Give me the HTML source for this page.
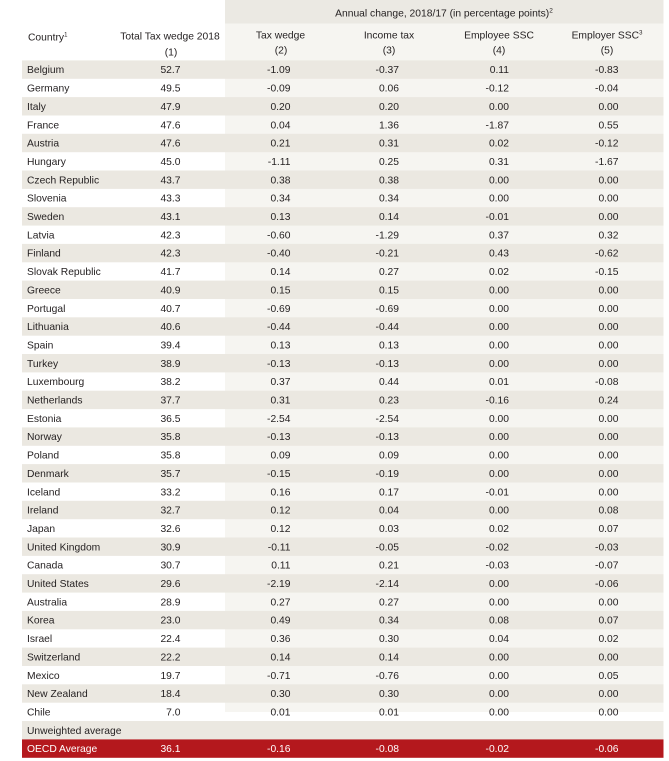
<!DOCTYPE html>
<html><head><meta charset="utf-8"><style>
html,body{margin:0;padding:0;background:#fff;}
svg{display:block;}
text{font-family:"Liberation Sans",sans-serif;font-size:10.3px;fill:#231f20;}
.r text.v{text-anchor:end;}
</style></head><body>
<svg width="669" height="761" viewBox="0 0 669 761" xmlns="http://www.w3.org/2000/svg">
<rect x="0" y="0" width="669" height="761" fill="#fff"/>
<rect x="225" y="0" width="438.5" height="712" fill="#f6f5f1"/>
<rect x="225" y="0" width="438.5" height="23.5" fill="#ebe9e3"/>
<text x="444" y="16.5" text-anchor="middle">Annual change, 2018/17 (in percentage points)<tspan font-size="6.5" dy="-4">2</tspan></text>
<text x="28" y="40.6">Country<tspan font-size="6" dy="-4">1</tspan></text>
<text x="170" y="39.3" text-anchor="middle">Total Tax wedge 2018</text>
<text x="171" y="55.3" text-anchor="middle">(1)</text>
<text x="280.5" y="38.6" text-anchor="middle">Tax wedge</text>
<text x="281" y="53.6" text-anchor="middle">(2)</text>
<text x="389" y="38.6" text-anchor="middle">Income tax</text>
<text x="389" y="53.6" text-anchor="middle">(3)</text>
<text x="499" y="38.6" text-anchor="middle">Employee SSC</text>
<text x="499" y="53.6" text-anchor="middle">(4)</text>
<text x="607" y="38.6" text-anchor="middle">Employer SSC<tspan font-size="6" dy="-4">3</tspan></text>
<text x="607" y="53.6" text-anchor="middle">(5)</text>

<g fill="#ebe8e1">
<rect x="22" y="60.4" width="641.5" height="18.4"/>
<rect x="22" y="97.1" width="641.5" height="18.4"/>
<rect x="22" y="133.8" width="641.5" height="18.4"/>
<rect x="22" y="170.5" width="641.5" height="18.4"/>
<rect x="22" y="207.2" width="641.5" height="18.4"/>
<rect x="22" y="243.9" width="641.5" height="18.4"/>
<rect x="22" y="280.6" width="641.5" height="18.4"/>
<rect x="22" y="317.3" width="641.5" height="18.4"/>
<rect x="22" y="354.0" width="641.5" height="18.4"/>
<rect x="22" y="390.7" width="641.5" height="18.4"/>
<rect x="22" y="427.4" width="641.5" height="18.4"/>
<rect x="22" y="464.1" width="641.5" height="18.4"/>
<rect x="22" y="500.8" width="641.5" height="18.4"/>
<rect x="22" y="537.5" width="641.5" height="18.4"/>
<rect x="22" y="574.2" width="641.5" height="18.4"/>
<rect x="22" y="610.9" width="641.5" height="18.4"/>
<rect x="22" y="647.6" width="641.5" height="18.4"/>
<rect x="22" y="684.3" width="641.5" height="18.4"/>
<rect x="22" y="721.0" width="641.5" height="18.4"/>
</g>
<rect x="22" y="739.4" width="641.5" height="18.4" fill="#b4181d"/>

<g class="r" transform="translate(0,73.2)"><text x="27">Belgium</text><text class="v" x="180.5">52.7</text><text class="v" x="290.5">-1.09</text><text class="v" x="399">-0.37</text><text class="v" x="509">0.11</text><text class="v" x="618.5">-0.83</text></g>
<g class="r" transform="translate(0,91.55)"><text x="27">Germany</text><text class="v" x="180.5">49.5</text><text class="v" x="290.5">-0.09</text><text class="v" x="399">0.06</text><text class="v" x="509">-0.12</text><text class="v" x="618.5">-0.04</text></g>
<g class="r" transform="translate(0,109.9)"><text x="27">Italy</text><text class="v" x="180.5">47.9</text><text class="v" x="290.5">0.20</text><text class="v" x="399">0.20</text><text class="v" x="509">0.00</text><text class="v" x="618.5">0.00</text></g>
<g class="r" transform="translate(0,128.25)"><text x="27">France</text><text class="v" x="180.5">47.6</text><text class="v" x="290.5">0.04</text><text class="v" x="399">1.36</text><text class="v" x="509">-1.87</text><text class="v" x="618.5">0.55</text></g>
<g class="r" transform="translate(0,146.6)"><text x="27">Austria</text><text class="v" x="180.5">47.6</text><text class="v" x="290.5">0.21</text><text class="v" x="399">0.31</text><text class="v" x="509">0.02</text><text class="v" x="618.5">-0.12</text></g>
<g class="r" transform="translate(0,164.95)"><text x="27">Hungary</text><text class="v" x="180.5">45.0</text><text class="v" x="290.5">-1.11</text><text class="v" x="399">0.25</text><text class="v" x="509">0.31</text><text class="v" x="618.5">-1.67</text></g>
<g class="r" transform="translate(0,183.3)"><text x="27">Czech Republic</text><text class="v" x="180.5">43.7</text><text class="v" x="290.5">0.38</text><text class="v" x="399">0.38</text><text class="v" x="509">0.00</text><text class="v" x="618.5">0.00</text></g>
<g class="r" transform="translate(0,201.65)"><text x="27">Slovenia</text><text class="v" x="180.5">43.3</text><text class="v" x="290.5">0.34</text><text class="v" x="399">0.34</text><text class="v" x="509">0.00</text><text class="v" x="618.5">0.00</text></g>
<g class="r" transform="translate(0,220.0)"><text x="27">Sweden</text><text class="v" x="180.5">43.1</text><text class="v" x="290.5">0.13</text><text class="v" x="399">0.14</text><text class="v" x="509">-0.01</text><text class="v" x="618.5">0.00</text></g>
<g class="r" transform="translate(0,238.35)"><text x="27">Latvia</text><text class="v" x="180.5">42.3</text><text class="v" x="290.5">-0.60</text><text class="v" x="399">-1.29</text><text class="v" x="509">0.37</text><text class="v" x="618.5">0.32</text></g>
<g class="r" transform="translate(0,256.7)"><text x="27">Finland</text><text class="v" x="180.5">42.3</text><text class="v" x="290.5">-0.40</text><text class="v" x="399">-0.21</text><text class="v" x="509">0.43</text><text class="v" x="618.5">-0.62</text></g>
<g class="r" transform="translate(0,275.05)"><text x="27">Slovak Republic</text><text class="v" x="180.5">41.7</text><text class="v" x="290.5">0.14</text><text class="v" x="399">0.27</text><text class="v" x="509">0.02</text><text class="v" x="618.5">-0.15</text></g>
<g class="r" transform="translate(0,293.4)"><text x="27">Greece</text><text class="v" x="180.5">40.9</text><text class="v" x="290.5">0.15</text><text class="v" x="399">0.15</text><text class="v" x="509">0.00</text><text class="v" x="618.5">0.00</text></g>
<g class="r" transform="translate(0,311.75)"><text x="27">Portugal</text><text class="v" x="180.5">40.7</text><text class="v" x="290.5">-0.69</text><text class="v" x="399">-0.69</text><text class="v" x="509">0.00</text><text class="v" x="618.5">0.00</text></g>
<g class="r" transform="translate(0,330.1)"><text x="27">Lithuania</text><text class="v" x="180.5">40.6</text><text class="v" x="290.5">-0.44</text><text class="v" x="399">-0.44</text><text class="v" x="509">0.00</text><text class="v" x="618.5">0.00</text></g>
<g class="r" transform="translate(0,348.45)"><text x="27">Spain</text><text class="v" x="180.5">39.4</text><text class="v" x="290.5">0.13</text><text class="v" x="399">0.13</text><text class="v" x="509">0.00</text><text class="v" x="618.5">0.00</text></g>
<g class="r" transform="translate(0,366.8)"><text x="27">Turkey</text><text class="v" x="180.5">38.9</text><text class="v" x="290.5">-0.13</text><text class="v" x="399">-0.13</text><text class="v" x="509">0.00</text><text class="v" x="618.5">0.00</text></g>
<g class="r" transform="translate(0,385.15)"><text x="27">Luxembourg</text><text class="v" x="180.5">38.2</text><text class="v" x="290.5">0.37</text><text class="v" x="399">0.44</text><text class="v" x="509">0.01</text><text class="v" x="618.5">-0.08</text></g>
<g class="r" transform="translate(0,403.5)"><text x="27">Netherlands</text><text class="v" x="180.5">37.7</text><text class="v" x="290.5">0.31</text><text class="v" x="399">0.23</text><text class="v" x="509">-0.16</text><text class="v" x="618.5">0.24</text></g>
<g class="r" transform="translate(0,421.85)"><text x="27">Estonia</text><text class="v" x="180.5">36.5</text><text class="v" x="290.5">-2.54</text><text class="v" x="399">-2.54</text><text class="v" x="509">0.00</text><text class="v" x="618.5">0.00</text></g>
<g class="r" transform="translate(0,440.2)"><text x="27">Norway</text><text class="v" x="180.5">35.8</text><text class="v" x="290.5">-0.13</text><text class="v" x="399">-0.13</text><text class="v" x="509">0.00</text><text class="v" x="618.5">0.00</text></g>
<g class="r" transform="translate(0,458.55)"><text x="27">Poland</text><text class="v" x="180.5">35.8</text><text class="v" x="290.5">0.09</text><text class="v" x="399">0.09</text><text class="v" x="509">0.00</text><text class="v" x="618.5">0.00</text></g>
<g class="r" transform="translate(0,476.9)"><text x="27">Denmark</text><text class="v" x="180.5">35.7</text><text class="v" x="290.5">-0.15</text><text class="v" x="399">-0.19</text><text class="v" x="509">0.00</text><text class="v" x="618.5">0.00</text></g>
<g class="r" transform="translate(0,495.25)"><text x="27">Iceland</text><text class="v" x="180.5">33.2</text><text class="v" x="290.5">0.16</text><text class="v" x="399">0.17</text><text class="v" x="509">-0.01</text><text class="v" x="618.5">0.00</text></g>
<g class="r" transform="translate(0,513.6)"><text x="27">Ireland</text><text class="v" x="180.5">32.7</text><text class="v" x="290.5">0.12</text><text class="v" x="399">0.04</text><text class="v" x="509">0.00</text><text class="v" x="618.5">0.08</text></g>
<g class="r" transform="translate(0,531.95)"><text x="27">Japan</text><text class="v" x="180.5">32.6</text><text class="v" x="290.5">0.12</text><text class="v" x="399">0.03</text><text class="v" x="509">0.02</text><text class="v" x="618.5">0.07</text></g>
<g class="r" transform="translate(0,550.3)"><text x="27">United Kingdom</text><text class="v" x="180.5">30.9</text><text class="v" x="290.5">-0.11</text><text class="v" x="399">-0.05</text><text class="v" x="509">-0.02</text><text class="v" x="618.5">-0.03</text></g>
<g class="r" transform="translate(0,568.65)"><text x="27">Canada</text><text class="v" x="180.5">30.7</text><text class="v" x="290.5">0.11</text><text class="v" x="399">0.21</text><text class="v" x="509">-0.03</text><text class="v" x="618.5">-0.07</text></g>
<g class="r" transform="translate(0,587.0)"><text x="27">United States</text><text class="v" x="180.5">29.6</text><text class="v" x="290.5">-2.19</text><text class="v" x="399">-2.14</text><text class="v" x="509">0.00</text><text class="v" x="618.5">-0.06</text></g>
<g class="r" transform="translate(0,605.35)"><text x="27">Australia</text><text class="v" x="180.5">28.9</text><text class="v" x="290.5">0.27</text><text class="v" x="399">0.27</text><text class="v" x="509">0.00</text><text class="v" x="618.5">0.00</text></g>
<g class="r" transform="translate(0,623.7)"><text x="27">Korea</text><text class="v" x="180.5">23.0</text><text class="v" x="290.5">0.49</text><text class="v" x="399">0.34</text><text class="v" x="509">0.08</text><text class="v" x="618.5">0.07</text></g>
<g class="r" transform="translate(0,642.05)"><text x="27">Israel</text><text class="v" x="180.5">22.4</text><text class="v" x="290.5">0.36</text><text class="v" x="399">0.30</text><text class="v" x="509">0.04</text><text class="v" x="618.5">0.02</text></g>
<g class="r" transform="translate(0,660.4)"><text x="27">Switzerland</text><text class="v" x="180.5">22.2</text><text class="v" x="290.5">0.14</text><text class="v" x="399">0.14</text><text class="v" x="509">0.00</text><text class="v" x="618.5">0.00</text></g>
<g class="r" transform="translate(0,678.75)"><text x="27">Mexico</text><text class="v" x="180.5">19.7</text><text class="v" x="290.5">-0.71</text><text class="v" x="399">-0.76</text><text class="v" x="509">0.00</text><text class="v" x="618.5">0.05</text></g>
<g class="r" transform="translate(0,697.1)"><text x="27">New Zealand</text><text class="v" x="180.5">18.4</text><text class="v" x="290.5">0.30</text><text class="v" x="399">0.30</text><text class="v" x="509">0.00</text><text class="v" x="618.5">0.00</text></g>
<g class="r" transform="translate(0,715.45)"><text x="27">Chile</text><text class="v" x="180.5">7.0</text><text class="v" x="290.5">0.01</text><text class="v" x="399">0.01</text><text class="v" x="509">0.00</text><text class="v" x="618.5">0.00</text></g>
<g class="r" transform="translate(0,733.8)"><text x="27">Unweighted average</text></g>
<g class="r" transform="translate(0,752.15)" style="fill:#fff"><text x="27" style="fill:#fff">OECD Average</text><text class="v" x="180.5" style="fill:#fff">36.1</text><text class="v" x="290.5" style="fill:#fff">-0.16</text><text class="v" x="399" style="fill:#fff">-0.08</text><text class="v" x="509" style="fill:#fff">-0.02</text><text class="v" x="618.5" style="fill:#fff">-0.06</text></g>
</svg>
</body></html>
